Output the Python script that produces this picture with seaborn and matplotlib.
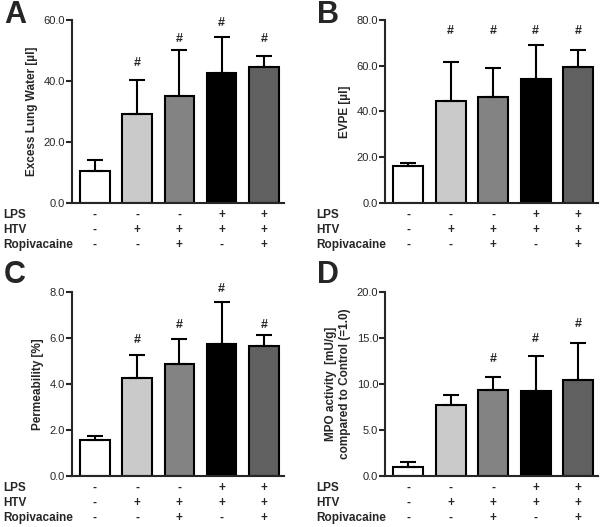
import numpy as np
import pandas as pd
import seaborn as sns
import matplotlib.pyplot as plt

sns.set_style("ticks")
plt.rcParams["font.family"] = ["Liberation Sans", "DejaVu Sans"]

# Groups and treatment table
groups = ["Control", "HTV", "HTV+Ropi", "LPS+HTV", "LPS+HTV+Ropi"]
row_names = ["LPS", "HTV", "Ropivacaine"]
lps = ["-", "-", "-", "+", "+"]
htv = ["-", "+", "+", "+", "+"]
ropi = ["-", "-", "+", "-", "+"]
bar_colors = ["#ffffff", "#cacaca", "#838383", "#000000", "#606060"]

# Panel A - excess lung water
elw_mean = [10.6, 29.2, 35.2, 42.5, 44.5]
elw_sd = [3.6, 11.1, 15.0, 12.0, 3.8]
elw_hash = [None, 45.8, 53.7, 59.1, 53.7]

# Panel B - EVPE
evpe_mean = [16.0, 44.7, 46.4, 54.1, 59.6]
evpe_sd = [1.3, 17.1, 12.5, 15.0, 7.3]
evpe_hash = [None, 75.3, 75.3, 75.3, 75.3]

# Panel C - permeability
perm_mean = [1.56, 4.25, 4.87, 5.72, 5.63]
perm_sd = [0.19, 1.02, 1.09, 1.83, 0.48]
perm_hash = [None, 5.89, 6.55, 8.15, 6.55]

# Panel D - MPO activity
mpo_mean = [1.02, 7.7, 9.35, 9.27, 10.4]
mpo_sd = [0.54, 1.1, 1.35, 3.73, 4.0]
mpo_hash = [None, None, 12.7, 14.9, 16.5]

panels = [
    ("A", elw_mean, elw_sd, elw_hash, "Excess Lung Water [µl]", [0, 20, 40, 60], [0.12, 0.615, 0.353, 0.347]),
    ("B", evpe_mean, evpe_sd, evpe_hash, "EVPE [µl]", [0, 20, 40, 60, 80], [0.642, 0.615, 0.355, 0.347]),
    ("C", perm_mean, perm_sd, perm_hash, "Permeability [%]", [0, 2, 4, 6, 8], [0.12, 0.097, 0.353, 0.349]),
    ("D", mpo_mean, mpo_sd, mpo_hash, "MPO activity  [mU/g]\ncompared to Control (=1.0)", [0, 5, 10, 15, 20], [0.642, 0.097, 0.355, 0.349]),
]

fig = plt.figure(figsize=(6, 5.27), dpi=100)

for letter, means, sds, hashes, ylabel, yticks, rect in panels:
    ax = fig.add_axes(rect)
    df = pd.DataFrame({"group": groups, "value": means})
    sns.barplot(data=df, x="group", y="value", hue="group", palette=bar_colors,
                legend=False, edgecolor="black", linewidth=1.5, width=0.7, ax=ax)
    ax.errorbar(np.arange(len(groups)), means, yerr=[np.zeros(len(sds)), sds],
                fmt="none", ecolor="black", elinewidth=1.5, capsize=6, capthick=1.5, zorder=1)
    for i, h in enumerate(hashes):
        if h is not None:
            ax.text(i, h, "#", ha="center", va="center", fontsize=9, fontweight="bold", clip_on=False)

    ax.set_xlim(-0.54, 4.47)
    ax.set_ylim(yticks[0], yticks[-1])
    ax.set_yticks(yticks)
    ax.set_yticklabels([f"{t:.1f}" for t in yticks], fontsize=8)
    ax.set_xticks([])
    ax.set_xlabel("")
    ax.set_ylabel(ylabel, fontsize=8.5, fontweight="bold")
    ax.tick_params(axis="y", width=1.5, length=4, pad=1)
    sns.despine(ax=ax)
    for s in ["left", "bottom"]:
        ax.spines[s].set_linewidth(1.5)

    # treatment table under the bars
    trans = ax.get_xaxis_transform()
    ax_h = rect[3] * 527
    for r, (name, signs) in enumerate(zip(row_names, [lps, htv, ropi])):
        yy = -(12 + 15 * r) / ax_h
        ax.text(-0.54 - 69 / 42.5, yy, name, transform=trans, ha="left", va="center",
                fontsize=8.5, fontweight="bold")
        for i, s in enumerate(signs):
            ax.text(i, yy, s, transform=trans, ha="center", va="center",
                    fontsize=8.5, fontweight="bold")

    top = 527 if letter in "AB" else 267
    fig.text(rect[0] - 0.113, top / 527, letter, fontsize=22,
             fontweight="bold", ha="left", va="top")

fig.savefig("out.png", dpi=100)
